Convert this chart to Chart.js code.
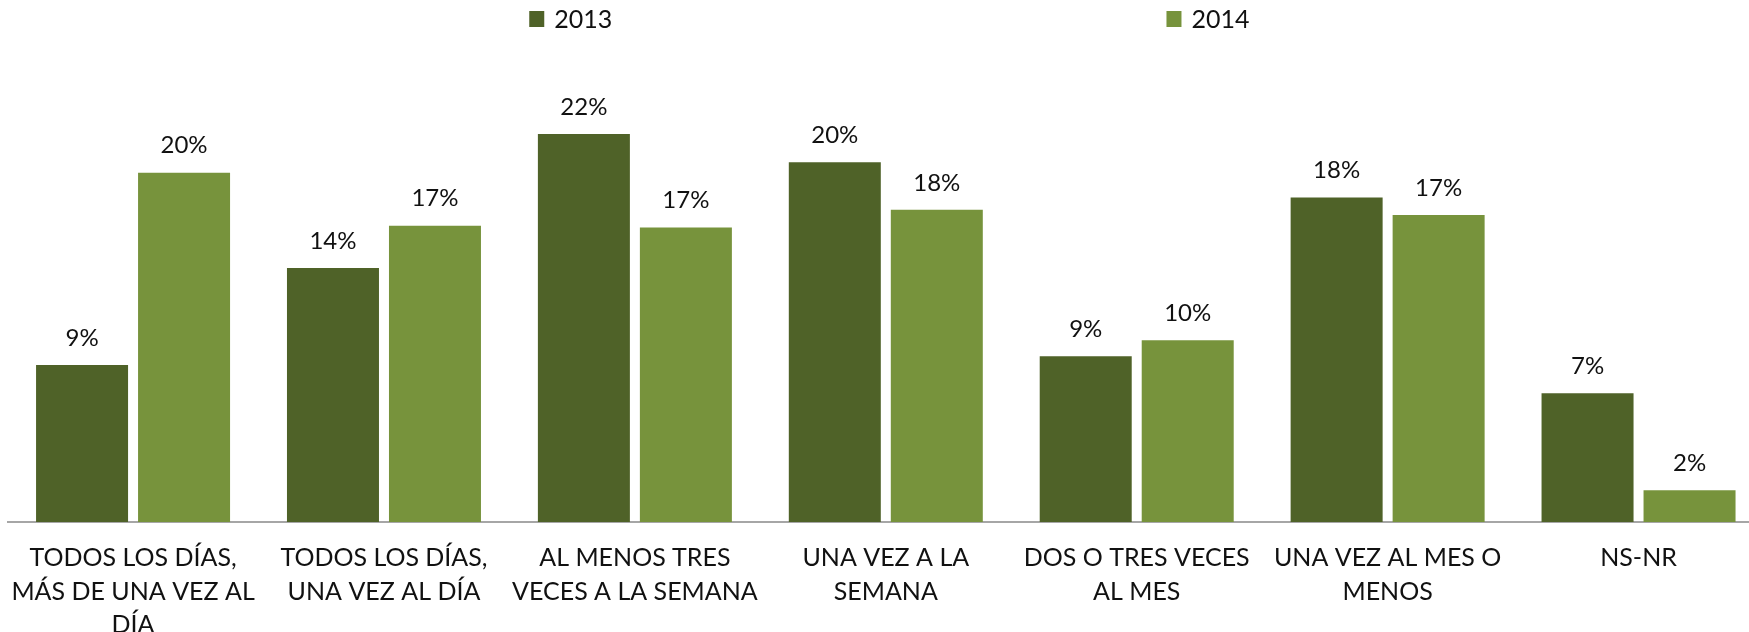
<!DOCTYPE html>
<html>
<head>
<meta charset="utf-8">
<script src="https://cdn.jsdelivr.net/npm/chart.js@4.4.0/dist/chart.umd.min.js"></script>
<style>
  html, body { margin: 0; padding: 0; background: #fff; overflow: hidden; width: 1749px; height: 632px; }
  #wrap { position: relative; width: 1764px; height: 632px; }
</style>
</head>
<body>
<div id="wrap"><canvas id="c"></canvas></div>
<script>
// Frequency categories (each entry holds the wrapped lines of its label)
const categories = [
  ['TODOS LOS DÍAS,', 'MÁS DE UNA VEZ AL', 'DÍA'],
  ['TODOS LOS DÍAS,', 'UNA VEZ AL DÍA'],
  ['AL MENOS TRES', 'VECES A LA SEMANA'],
  ['UNA VEZ A LA', 'SEMANA'],
  ['DOS O TRES VECES', 'AL MES'],
  ['UNA VEZ AL MES O', 'MENOS'],
  ['NS-NR']
];
const seriesNames = ['2013', '2014'];
// Shares in percent
const values2013 = [8.9, 14.4, 22.0, 20.4, 9.4, 18.4, 7.3];
const values2014 = [19.8, 16.8, 16.7, 17.7, 10.3, 17.4, 1.8];

const FONT = 'Lato, "Open Sans", sans-serif';
const colors = ['#4F6228', '#77933C'];

// Legend drawn across the top, items spread apart
const topLegend = {
  id: 'topLegend',
  afterDraw(chart) {
    const ctx = chart.ctx, a = chart.chartArea;
    const spots = [0.297, 0.6598];
    ctx.save();
    ctx.font = '25px ' + FONT;
    ctx.textBaseline = 'middle';
    ctx.textAlign = 'left';
    chart.data.datasets.forEach((ds, i) => {
      const x = a.left + spots[i] * (a.right - a.left);
      ctx.fillStyle = ds.backgroundColor;
      ctx.fillRect(x, 11, 15, 16);
      ctx.fillStyle = '#111';
      ctx.fillText(ds.label, x + 25, 20);
    });
    ctx.restore();
  }
};

// Percentage labels above each bar
const valueLabels = {
  id: 'valueLabels',
  afterDatasetsDraw(chart) {
    const ctx = chart.ctx;
    ctx.save();
    ctx.font = '24px ' + FONT;
    ctx.fillStyle = '#111';
    ctx.textAlign = 'center';
    ctx.textBaseline = 'middle';
    chart.data.datasets.forEach((ds, i) => {
      chart.getDatasetMeta(i).data.forEach((bar, j) => {
        ctx.fillText(Math.round(ds.data[j]) + '%', bar.x, bar.y - 27);
      });
    });
    ctx.restore();
  }
};

new Chart(document.getElementById('c'), {
  type: 'bar',
  data: {
    labels: categories,
    datasets: [
      { label: seriesNames[0], data: values2013, backgroundColor: colors[0],
        categoryPercentage: 0.813, barPercentage: 0.902 },
      { label: seriesNames[1], data: values2014, backgroundColor: colors[1],
        categoryPercentage: 0.813, barPercentage: 0.902 }
    ]
  },
  options: {
    responsive: true,
    maintainAspectRatio: false,
    animation: false,
    layout: { padding: { top: 81, left: 7.6, right: 0, bottom: 0 } },
    plugins: {
      legend: { display: false },
      tooltip: { enabled: false }
    },
    scales: {
      x: {
        offset: true,
        grid: { display: false, drawTicks: false },
        border: { display: true, color: '#a6a6a6', width: 2 },
        ticks: {
          color: '#111',
          font: { family: FONT, size: 25, lineHeight: 1.34 },
          padding: 19.5,
          maxRotation: 0,
          autoSkip: false
        },
        afterFit(scale) {
          scale.height = 110;
          // labels may spill past the plot edges; keep the plot full width
          scale.paddingLeft = 0;
          scale.paddingRight = 0;
        }
      },
      y: { display: false, min: 0, max: 25 }
    }
  },
  plugins: [topLegend, valueLabels]
});
</script>
</body>
</html>
